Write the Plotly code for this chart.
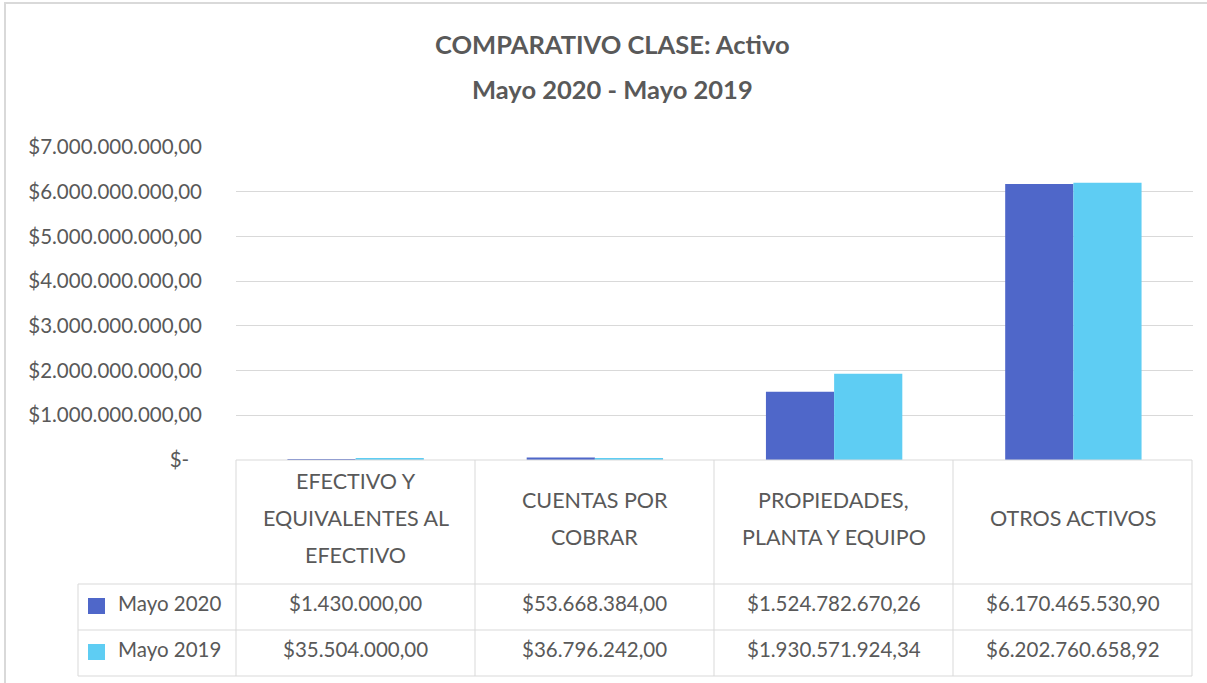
import plotly.graph_objects as go

categories = ["EFECTIVO Y EQUIVALENTES AL EFECTIVO", "CUENTAS POR COBRAR",
              "PROPIEDADES, PLANTA Y EQUIPO", "OTROS ACTIVOS"]
category_lines = [["EFECTIVO Y", "EQUIVALENTES AL", "EFECTIVO"],
                  ["CUENTAS POR", "COBRAR"],
                  ["PROPIEDADES,", "PLANTA Y EQUIPO"],
                  ["OTROS ACTIVOS"]]
mayo_2020 = [1430000.00, 53668384.00, 1524782670.26, 6170465530.90]
mayo_2019 = [35504000.00, 36796242.00, 1930571924.34, 6202760658.92]
series_names = ["Mayo 2020", "Mayo 2019"]
tick_values = [0, 1e9, 2e9, 3e9, 4e9, 5e9, 6e9, 7e9]
tick_labels = ["$-\u2002\u2009", "$1.000.000.000,00", "$2.000.000.000,00", "$3.000.000.000,00",
               "$4.000.000.000,00", "$5.000.000.000,00", "$6.000.000.000,00",
               "$7.000.000.000,00"]

COL_2020 = "#4F67C9"
COL_2019 = "#5ECDF3"
TXT = "#595959"
GRID = "#D9D9D9"
FONT = "Lato"

W, H = 1207, 683
PL, PR, PT, PB = 236, 1193, 147, 460


def fmt(v):
    s = f"{v:,.2f}"
    s = s.replace(",", "X").replace(".", ",").replace("X", ".")
    return "$" + s


def px(x):
    return (x - PL) / (PR - PL)


def py(y):
    return (PB - y) / (PB - PT)


def ann(text, x, y, size, xanchor="center", bold=False):
    return dict(text=f"<b>{text}</b>" if bold else text, xref="paper", yref="paper",
                x=px(x), y=py(y), xanchor=xanchor, yanchor="middle", showarrow=False,
                font=dict(size=size, color=TXT, family=FONT))


fig = go.Figure()
fig.add_trace(go.Bar(x=categories, y=mayo_2020, name=series_names[0],
                     marker=dict(color=COL_2020, line=dict(width=0))))
fig.add_trace(go.Bar(x=categories, y=mayo_2019, name=series_names[1],
                     marker=dict(color=COL_2019, line=dict(width=0))))

shapes = []
annotations = []

# outer chart border
shapes.append(dict(type="rect", xref="paper", yref="paper",
                   x0=px(5), x1=px(1215), y0=py(3), y1=py(695),
                   line=dict(color=GRID, width=2), fillcolor="rgba(0,0,0,0)",
                   layer="below"))

# titles
annotations.append(ann("COMPARATIVO CLASE: Activo", 612, 44, 25.5, bold=True))
annotations.append(ann("Mayo 2020 - Mayo 2019", 612, 89, 25.5, bold=True))

# data table
col_edges = [236, 475, 714, 953, 1192]
row_edges = [460, 584, 630, 676]
line_style = dict(color=GRID, width=1)
shapes.append(dict(type="line", xref="paper", yref="paper", x0=px(236), x1=px(1192),
                   y0=py(460), y1=py(460), line=line_style))
for yy in row_edges[1:]:
    shapes.append(dict(type="line", xref="paper", yref="paper", x0=px(78), x1=px(1192),
                       y0=py(yy), y1=py(yy), line=line_style))
shapes.append(dict(type="line", xref="paper", yref="paper", x0=px(78), x1=px(78),
                   y0=py(584), y1=py(676), line=line_style))
for xx in col_edges:
    shapes.append(dict(type="line", xref="paper", yref="paper", x0=px(xx), x1=px(xx),
                       y0=py(460), y1=py(676), line=line_style))

# header labels
for i, lines in enumerate(category_lines):
    cx = (col_edges[i] + col_edges[i + 1]) / 2
    n = len(lines)
    for j, ln in enumerate(lines):
        yy = 518 + (j - (n - 1) / 2) * 37
        annotations.append(ann(ln, cx, yy, 21.5))

# value rows + legend keys
for r, (vals, col, name) in enumerate([(mayo_2020, COL_2020, series_names[0]),
                                       (mayo_2019, COL_2019, series_names[1])]):
    cy = (row_edges[r + 1] + row_edges[r + 2]) / 2
    for i, v in enumerate(vals):
        cx = (col_edges[i] + col_edges[i + 1]) / 2
        annotations.append(ann(fmt(v), cx, cy - 4, 20.5))
    shapes.append(dict(type="rect", xref="paper", yref="paper",
                       x0=px(88), x1=px(105), y0=py(cy - 9), y1=py(cy + 7),
                       fillcolor=col, line=dict(width=0)))
    annotations.append(ann(name, 116, cy - 4, 20.5, xanchor="left"))

fig.update_layout(
    width=W, height=H,
    margin=dict(l=PL, r=W - PR, t=PT, b=H - PB, pad=0),
    paper_bgcolor="white", plot_bgcolor="white",
    barmode="group", bargap=0.43, bargroupgap=0,
    showlegend=False,
    font=dict(family=FONT, color=TXT, size=18),
    shapes=shapes, annotations=annotations,
)
fig.update_xaxes(showticklabels=False, showgrid=False, zeroline=False, showline=False,
                 ticks="")
fig.update_yaxes(range=[0, 7e9], tickvals=tick_values, ticktext=tick_labels,
                 showgrid=True, gridcolor=GRID, gridwidth=1, zeroline=False,
                 showline=False, ticks="", ticklabelstandoff=33,
                 tickfont=dict(size=20.5, color=TXT, family=FONT))

fig.write_html("out.html", config={"displayModeBar": False},
               post_script="document.body.style.margin='0';document.body.style.overflow='hidden';")
